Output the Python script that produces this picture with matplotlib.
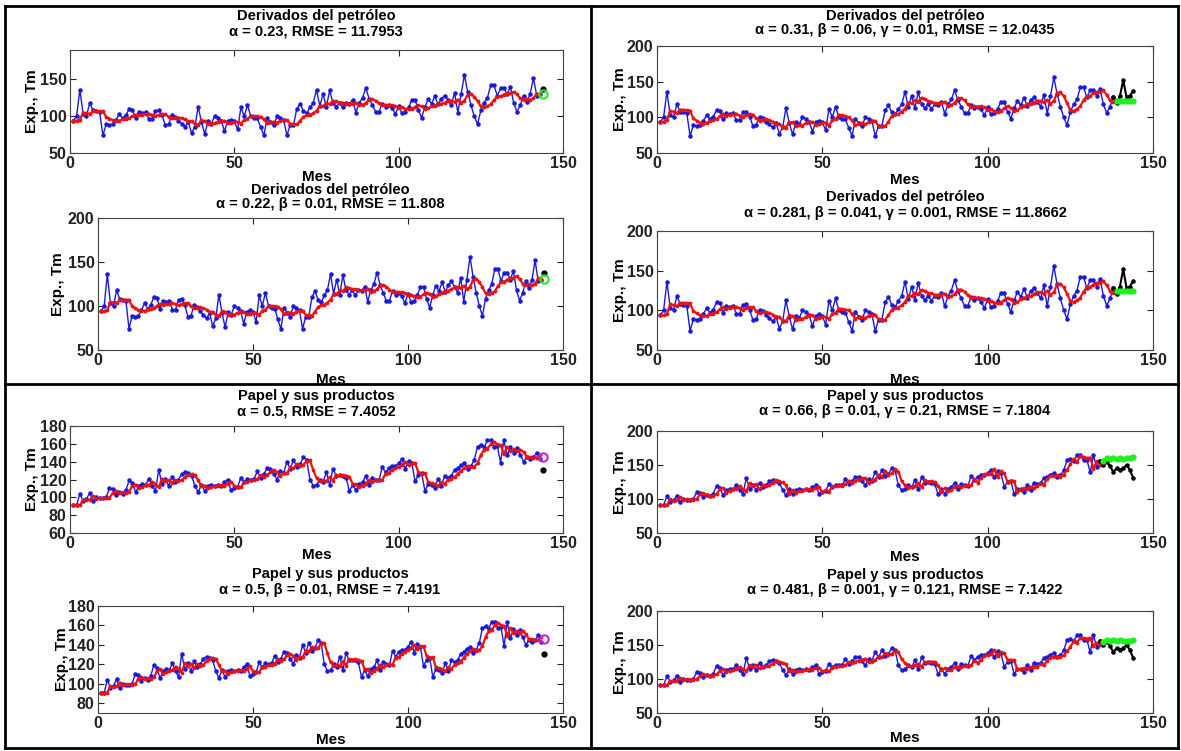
import numpy as np
import matplotlib
matplotlib.use("Agg")
import matplotlib.pyplot as plt
from matplotlib.lines import Line2D
from matplotlib.patches import Rectangle

# monthly series (Tm), months 1..144
months = np.arange(1, 145)
petro = np.array([
    94, 100, 136, 103, 100, 118, 108, 107, 106, 74,
    89, 88, 89, 95, 103, 97, 101, 110, 109, 97,
    106, 104, 106, 96, 96, 107, 108, 101, 88, 89,
    101, 99, 94, 90, 86, 92, 77, 86, 113, 92,
    76, 93, 90, 100, 98, 94, 80, 93, 95, 93,
    82, 112, 100, 115, 100, 98, 97, 85, 74, 98,
    92, 88, 100, 98, 95, 74, 88, 88, 110, 117,
    107, 104, 112, 118, 136, 114, 130, 113, 135, 118,
    113, 118, 112, 118, 117, 122, 105, 118, 125, 138,
    124, 115, 106, 106, 117, 113, 115, 111, 103, 114,
    104, 106, 112, 122, 122, 108, 98, 113, 123, 117,
    127, 116, 124, 128, 122, 115, 132, 105, 130, 156,
    133, 115, 100, 89, 108, 118, 125, 142, 142, 128,
    138, 138, 130, 140, 118, 106, 115, 128, 120, 130,
    152, 128, 130, 137], dtype=float)
paper = np.array([
    91, 91, 104, 96, 98, 105, 96, 100, 99, 99,
    100, 110, 109, 103, 106, 104, 108, 119, 116, 106,
    113, 115, 114, 121, 113, 107, 131, 115, 121, 113,
    123, 117, 120, 126, 128, 127, 124, 113, 106, 114,
    107, 113, 114, 113, 114, 113, 117, 120, 108, 110,
    112, 122, 117, 121, 120, 121, 129, 122, 126, 133,
    132, 126, 120, 130, 127, 140, 132, 142, 134, 137,
    145, 142, 120, 113, 114, 120, 117, 128, 114, 132,
    124, 125, 124, 122, 107, 114, 108, 115, 117, 124,
    114, 122, 120, 119, 134, 128, 133, 135, 135, 138,
    143, 132, 141, 138, 118, 125, 127, 107, 115, 114,
    111, 121, 113, 124, 122, 124, 131, 133, 136, 138,
    132, 135, 142, 157, 159, 156, 164, 164, 157, 158,
    139, 164, 147, 156, 150, 155, 148, 140, 145, 143,
    145, 150, 143, 131], dtype=float)

petro_name = "Derivados del petróleo"
paper_name = "Papel y sus productos"
petro_split = 138   # last month used for fitting in the Holt-Winters panels
paper_split = 134

# smoothing parameters shown in the titles
ses_petro = (0.23, "11.7953")
holt_petro = (0.22, 0.01, "11.808")
hw_petro_1 = (0.31, 0.06, 0.01, "12.0435")
hw_petro_2 = (0.281, 0.041, 0.001, "11.8662")
ses_paper = (0.5, "7.4052")
holt_paper = (0.5, 0.01, "7.4191")
hw_paper_1 = (0.66, 0.01, 0.21, "7.1804")
hw_paper_2 = (0.481, 0.001, 0.121, "7.1422")

BLUE = "#1a1ad8"
RED = "#ee1111"
GREEN = "#22ee22"
W, H = 1181, 751

plt.rcParams["font.family"] = ["Liberation Sans", "DejaVu Sans"]
plt.rcParams["font.weight"] = "bold"
plt.rcParams["axes.labelweight"] = "bold"


def ses(y, a):
    f = [y[0]]
    for v in y[:-1]:
        f.append(a * v + (1 - a) * f[-1])
    return np.array(f), a * y[-1] + (1 - a) * f[-1]


def holt(y, a, b):
    lev, tr = y[0], 0.0
    f = [y[0]]
    for v in y[1:]:
        f.append(lev + tr)
        new = a * v + (1 - a) * (lev + tr)
        tr = b * (new - lev) + (1 - b) * tr
        lev = new
    return np.array(f), lev + tr


def holt_winters(y, a, b, g, h, m=12):
    # additive model, level starts at the first value, no trend, flat season
    lev, tr = y[0], 0.0
    season = np.zeros(m)
    fit = []
    for i, v in enumerate(y):
        s = season[i % m]
        fit.append(lev + tr + s)
        new = a * (v - s) + (1 - a) * (lev + tr)
        tr = b * (new - lev) + (1 - b) * tr
        season[i % m] = g * (v - new) + (1 - g) * s
        lev = new
    n = len(y)
    fc = [lev + (j + 1) * tr + season[(n + j) % m] for j in range(h)]
    return np.array(fit), np.array(fc)


def make_ax(l, t, r, b, ylim, yticks, xlab_y, ylab_x):
    ax = fig.add_axes([l / W, 1 - b / H, (r - l) / W, (b - t) / H])
    ax.set_xlim(0, 150)
    ax.set_ylim(*ylim)
    ax.set_xticks([0, 50, 100, 150])
    ax.set_yticks(yticks)
    ax.tick_params(direction="in", length=4, width=0.8, top=True, right=True,
                   labelsize=11.5, pad=2.5, colors="#222222")
    for sp in ax.spines.values():
        sp.set_color("#444444")
        sp.set_linewidth(0.8)
    ax.set_xlabel("Mes", fontsize=11)
    ax.xaxis.set_label_coords(0.5, -(xlab_y - b) / (b - t))
    ax.xaxis.label.set_va("center")
    ax.set_ylabel("Exp., Tm", fontsize=11)
    ax.yaxis.set_label_coords(-(l - ylab_x) / (r - l), 0.5)
    ax.yaxis.label.set_va("center")
    return ax


def titles(xc, y1, y2, name, sub):
    fig.text(xc / W, 1 - y1 / H, name, ha="center", va="center", fontsize=10.5)
    fig.text(xc / W, 1 - y2 / H, sub, ha="center", va="center", fontsize=10.5)


def plot_ses(ax, y, a, circ):
    fit, nxt = ses(y[:-1], a)
    ax.plot(months[:-1], y[:-1], ".-", color=BLUE, lw=1, ms=4.5)
    ax.plot(months[:-1], fit, ".-", color=RED, lw=1.6, ms=3.5)
    ax.plot(months[-1], y[-1], "o", color="k", ms=3.5)
    ax.plot(months[-1], nxt, "o", mfc="none", mec=circ, ms=6, mew=1.5)


def plot_holt(ax, y, a, b, circ):
    fit, nxt = holt(y[:-1], a, b)
    ax.plot(months[:-1], y[:-1], ".-", color=BLUE, lw=1, ms=4.5)
    ax.plot(months[:-1], fit, ".-", color=RED, lw=1.6, ms=3.5)
    ax.plot(months[-1], y[-1], "o", color="k", ms=3.5)
    ax.plot(months[-1], nxt, "o", mfc="none", mec=circ, ms=6, mew=1.5)


def plot_hw(ax, y, n, a, b, g):
    fit, fc = holt_winters(y[:n], a, b, g, len(y) - n)
    ax.plot(months[:n], y[:n], ".-", color=BLUE, lw=1, ms=4.5)
    ax.plot(months[:n], fit, ".-", color=RED, lw=1.6, ms=3.5)
    ax.plot(months[n - 1:], y[n - 1:], ".-", color="k", lw=1.5, ms=4.5)
    ax.plot(months[n:], fc, ".-", color=GREEN, lw=2.5, ms=7)


fig = plt.figure(figsize=(W / 100, H / 100), dpi=100)

# derivados del petróleo
ax = make_ax(70, 50, 563, 153, (50, 190), [50, 100, 150], 177, 32)
plot_ses(ax, petro, ses_petro[0], GREEN)
titles(316, 16, 32, petro_name, f"α = {ses_petro[0]}, RMSE = {ses_petro[1]}")

ax = make_ax(98, 218, 563, 350, (50, 200), [50, 100, 150, 200], 380, 58)
plot_holt(ax, petro, holt_petro[0], holt_petro[1], GREEN)
titles(330, 190, 204, petro_name,
       f"α = {holt_petro[0]}, β = {holt_petro[1]}, RMSE = {holt_petro[2]}")

for (t, b, ty1, ty2, xl), p in zip([(46, 153, 16, 30, 180), (231, 350, 197, 213, 380)],
                                   [hw_petro_1, hw_petro_2]):
    ax = make_ax(657, t, 1153, b, (50, 200), [50, 100, 150, 200], xl, 620)
    plot_hw(ax, petro, petro_split, p[0], p[1], p[2])
    titles(905, ty1, ty2, petro_name,
           f"α = {p[0]}, β = {p[1]}, γ = {p[2]}, RMSE = {p[3]}")

# papel y sus productos
ax = make_ax(70, 426, 563, 533, (60, 180), [60, 80, 100, 120, 140, 160, 180], 555, 32)
plot_ses(ax, paper, ses_paper[0], "#cc22cc")
titles(316, 396, 411, paper_name, f"α = {ses_paper[0]}, RMSE = {ses_paper[1]}")

ax = make_ax(98, 606, 563, 713, (70, 180), [80, 100, 120, 140, 160, 180], 740, 62)
plot_holt(ax, paper, holt_paper[0], holt_paper[1], "#cc22cc")
titles(330, 574, 590, paper_name,
       f"α = {holt_paper[0]}, β = {holt_paper[1]}, RMSE = {holt_paper[2]}")

for (t, b, ty1, ty2, xl), p in zip([(431, 533, 396, 411, 557), (611, 713, 575, 590, 738)],
                                   [hw_paper_1, hw_paper_2]):
    ax = make_ax(657, t, 1153, b, (50, 200), [50, 100, 150, 200], xl, 620)
    plot_hw(ax, paper, paper_split, p[0], p[1], p[2])
    titles(905, ty1, ty2, paper_name,
           f"α = {p[0]}, β = {p[1]}, γ = {p[2]}, RMSE = {p[3]}")

# the lower cells hide the bottom of the upper "Mes" labels
fig.add_artist(Rectangle((5 / W, 1 - 387 / H), 1173 / W, 3 / H, color="white",
                         transform=fig.transFigure, zorder=9))


# table borders around the four cells
def seg(x0, y0, x1, y1):
    fig.add_artist(Line2D([x0 / W, x1 / W], [1 - y0 / H, 1 - y1 / H], color="k",
                          lw=2, transform=fig.transFigure, zorder=10))


seg(5, 6, 1178, 6)
seg(5, 748, 1178, 748)
seg(5, 6, 5, 748)
seg(1178, 6, 1178, 748)
seg(591, 6, 591, 748)
seg(5, 384, 1178, 384)

fig.savefig("out.png", dpi=100)
